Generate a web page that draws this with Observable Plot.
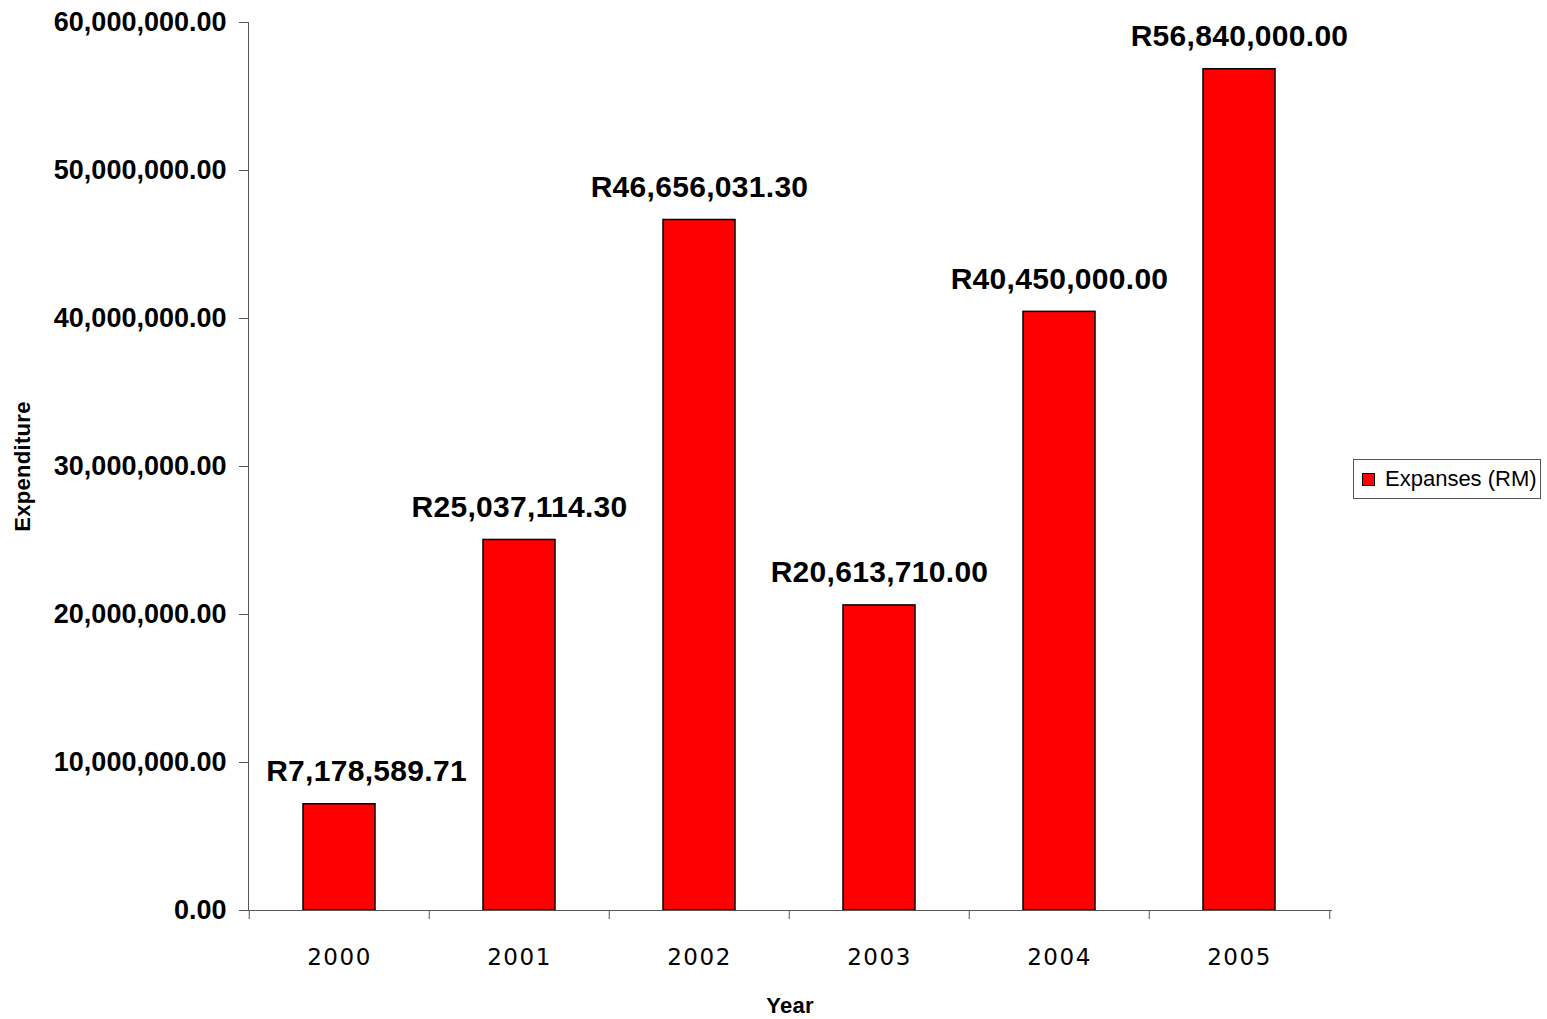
<!DOCTYPE html>
<html>
<head>
<meta charset="utf-8">
<script src="https://cdn.jsdelivr.net/npm/d3@7"></script>
<script src="https://cdn.jsdelivr.net/npm/@observablehq/plot@0.6"></script>
<style>
  html, body { margin: 0; padding: 0; background: #fff; }
  #wrap { position: relative; width: 1547px; height: 1019px; }
  #legend {
    position: absolute; left: 1353px; top: 459px; width: 186px; height: 38px;
    border: 1px solid #555; background: #fff; box-sizing: content-box;
    font-family: "Liberation Sans", Arial, sans-serif; font-size: 22px; color: #000;
  }
  #legend .sw { position: absolute; left: 8px; top: 13px; width: 11px; height: 11px; background: #ff0000; border: 1.5px solid #000; }
  #legend .lb { position: absolute; left: 31px; top: 6px; white-space: nowrap; }
  g[aria-label="x-axis tick label"] text { letter-spacing: 1.5px; }
  g[aria-label="text"] text { letter-spacing: 0.3px; }
</style>
</head>
<body>
<div id="wrap"><div id="chart"></div>
<div id="legend"><div class="sw"></div><div class="lb">Expanses (RM)</div></div>
</div>
<script>
const years = ["2000", "2001", "2002", "2003", "2004", "2005"];
const expenses = [7178589.71, 25037114.30, 46656031.30, 20613710.00, 40450000.00, 56840000.00];
const yTicks = [0, 10000000, 20000000, 30000000, 40000000, 50000000, 60000000];
const seriesName = "Expanses (RM)";
const xTitle = "Year";
const yTitle = "Expenditure";

const data = years.map((y, i) => ({year: y, value: expenses[i]}));
const fmt = d3.format(",.2f");

const W = 1547, H = 1019;
const mL = 248, mR = 216, mT = 22, mB = 109;
const step = (W - mL - mR) / years.length;
const bold = "Liberation Sans, Arial, sans-serif";
const labelOpts = {x: "year", y: "value", text: d => "R" + fmt(d.value), lineAnchor: "bottom", dy: -23, fontSize: 30, fontWeight: "bold", fill: "#000"};

const chart = Plot.plot({
  width: W, height: H,
  marginLeft: mL, marginRight: mR, marginTop: mT, marginBottom: mB,
  style: {fontFamily: bold, background: "#fff", color: "#000"},
  x: {domain: years, paddingInner: 0.6, paddingOuter: 0.3},
  y: {domain: [0, 60000000]},
  marks: [
    Plot.barY(data, {x: "year", y: "value", fill: "#ff0000", stroke: "#000", strokeWidth: 1.5}),
    Plot.frame({anchor: "left", stroke: "#555"}),
    Plot.frame({anchor: "bottom", stroke: "#555"}),
    Plot.axisY({ticks: yTicks, tickSize: 9, tickPadding: 13, tickFormat: fmt, fontSize: 27, fontWeight: "bold", stroke: "#555", label: null}),
    Plot.axisX({tickSize: 0, tickPadding: 38, fontSize: 23, fontFamily: "DejaVu Sans, Verdana, sans-serif", label: null}),
    Plot.axisX({tickSize: 9, dx: -step / 2, tickFormat: () => "", stroke: "#555", label: null}),
    Plot.axisX({ticks: [years[years.length - 1]], tickSize: 9, dx: step / 2, tickFormat: () => "", stroke: "#555", label: null}),
    Plot.text(data.slice(0, 1), {...labelOpts, dx: 27}),
    Plot.text(data.slice(1), labelOpts),
    Plot.text([yTitle], {frameAnchor: "left", textAnchor: "middle", dx: -226, rotate: -90, fontSize: 22, fontWeight: "bold", fill: "#000"}),
    Plot.text([xTitle], {frameAnchor: "bottom", dy: 102, fontSize: 22, fontWeight: "bold", fill: "#000"})
  ]
});
document.getElementById("chart").appendChild(chart);
</script>
</body>
</html>
